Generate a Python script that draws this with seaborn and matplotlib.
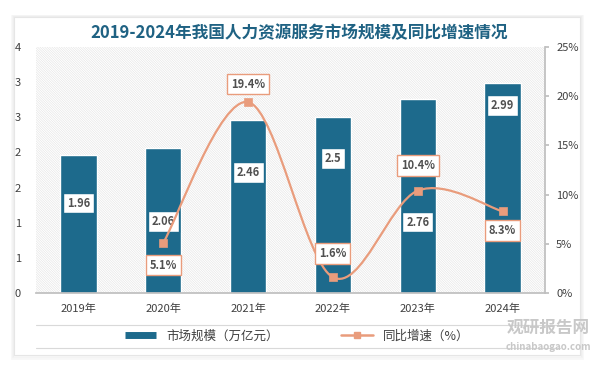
import numpy as np
import seaborn as sns
import matplotlib.pyplot as plt
from matplotlib.path import Path
from matplotlib.patches import PathPatch, Rectangle
from matplotlib.lines import Line2D

years = ["2019年", "2020年", "2021年", "2022年", "2023年", "2024年"]
market_size = [1.96, 2.06, 2.46, 2.5, 2.76, 2.99]
growth = [np.nan, 5.1, 19.4, 1.6, 10.4, 8.3]
left_tick_labels = ["0", "1", "1", "2", "2", "3", "3", "4"]
right_tick_labels = ["0%", "5%", "10%", "15%", "20%", "25%"]

# where the value boxes sit (left axis units / point offsets)
size_label_y = [1.28, 1.02, 1.71, 1.91, 1.01, 2.67]
growth_label_dy = [0, -16, 13, 17, 18, -14]

BAR = "#1d6a8c"
LINE = "#e99c7c"
TXT = "#404040"

sns.set_theme(style="white")
plt.rcParams["font.family"] = ["Noto Sans CJK SC", "DejaVu Sans"]
plt.rcParams["hatch.linewidth"] = 0.4

fig = plt.figure(figsize=(5.93, 3.69), dpi=100)
fig.patch.set_facecolor("white")

# card with soft shadow
for k, a in enumerate([0.02, 0.02, 0.03]):
    fig.patches.append(Rectangle((14 / 593 - k * 0.002, 1 - 355 / 369 - k * 0.004),
                                 566 / 593 + k * 0.004, 338 / 369 + k * 0.006,
                                 transform=fig.transFigure, facecolor="none",
                                 edgecolor="black", alpha=a, lw=2, zorder=-5))
fig.patches.append(Rectangle((14 / 593, 1 - 355 / 369), 566 / 593, 338 / 369,
                             transform=fig.transFigure, facecolor="white",
                             edgecolor="#e6e6e6", lw=0.8, zorder=-4))

ax = fig.add_axes([36 / 593, 1 - 293 / 369, 509 / 593, 246 / 369])
ax.set_facecolor("none")
ax.add_patch(Rectangle((0, 0), 1, 1, transform=ax.transAxes, facecolor="white",
                       edgecolor="#e2e2e2", hatch="\\" * 14, lw=0, zorder=0))

sns.barplot(x=years, y=market_size, color=BAR, width=0.43, saturation=1,
            edgecolor="white", linewidth=1, ax=ax, zorder=2)
ax.set_xlim(-0.5, 5.5)
ax.set_ylim(0, 3.5)
ax.set_yticks(np.arange(0, 3.51, 0.5))
ax.set_yticklabels(left_tick_labels)
ax.set_xlabel("")
ax.set_ylabel("")
for s in ["top", "left", "right"]:
    ax.spines[s].set_visible(False)
ax.spines["bottom"].set_color("#bfbfbf")
ax.tick_params(axis="y", length=0, pad=11, labelsize=8, labelcolor=TXT)
ax.tick_params(axis="x", length=0, pad=8, labelsize=8, labelcolor=TXT)

for i, v in enumerate(market_size):
    ax.annotate(f"{v:g}", (i, size_label_y[i]), ha="center", va="center",
                fontsize=8, fontweight="bold", color="#505050", zorder=5,
                bbox=dict(boxstyle="square,pad=0.35", fc="white", ec=BAR, lw=1))

ax2 = ax.twinx()
ax2.set_ylim(0, 25)
ax2.set_yticks(np.arange(0, 25.1, 5))
ax2.set_yticklabels(right_tick_labels)
for s in ["top", "left", "bottom"]:
    ax2.spines[s].set_visible(False)
ax2.spines["right"].set_color("#bfbfbf")
ax2.tick_params(axis="y", length=3, color="#bfbfbf", pad=5, labelsize=8,
                labelcolor=TXT, direction="out", right=True)

# smoothed line (Excel-style Catmull-Rom through the points)
pts = [(i, g) for i, g in enumerate(growth) if not np.isnan(g)]
P = np.array(pts, dtype=float)
verts = [tuple(P[0])]
codes = [Path.MOVETO]
for j in range(len(P) - 1):
    p0 = P[j - 1] if j > 0 else P[j]
    p1, p2 = P[j], P[j + 1]
    p3 = P[j + 2] if j + 2 < len(P) else P[j + 1]
    c1 = p1 + (p2 - p0) / 6
    c2 = p2 - (p3 - p1) / 6
    verts += [tuple(c1), tuple(c2), tuple(p2)]
    codes += [Path.CURVE4] * 3
ax2.add_patch(PathPatch(Path(verts, codes), facecolor="none", edgecolor=LINE,
                        lw=1.6, zorder=3))
sns.scatterplot(x=list(range(len(years))), y=growth, marker="s", s=36,
                color=LINE, edgecolor=LINE, ax=ax2, zorder=4)

for i, g in enumerate(growth):
    if np.isnan(g):
        continue
    ax2.annotate(f"{g}%", (i, g), xytext=(0, growth_label_dy[i]),
                 textcoords="offset points", ha="center", va="center",
                 fontsize=8, fontweight="bold", color="#505050", zorder=6,
                 bbox=dict(boxstyle="square,pad=0.35", fc="white", ec=LINE, lw=1))

fig.text(0.505, 1 - 33 / 369, "2019-2024年我国人力资源服务市场规模及同比增速情况",
         ha="center", va="center", fontsize=12, fontweight="bold", color="#1f6283")

handles = [Line2D([0], [0], color=BAR, lw=5, solid_capstyle="butt"),
           Line2D([0], [0], color=LINE, lw=1.8, marker="s", markersize=5)]
fig.legend(handles, ["市场规模（万亿元）", "同比增速（%）"], loc="center",
           bbox_to_anchor=(297 / 593, 1 - 336 / 369), ncol=2, frameon=False,
           fontsize=9, columnspacing=5, handlelength=2.5, labelcolor=TXT)
for yy in [325, 348]:
    fig.add_artist(Line2D([36 / 593, 560 / 593], [1 - yy / 369] * 2,
                          transform=fig.transFigure, color="#d9d9d9", lw=0.8))

fig.text(548 / 593, 1 - 328 / 369, "观研报告网", ha="center", va="center",
         fontsize=12, fontweight="bold", color="#c8c8c8")
fig.text(548 / 593, 1 - 347 / 369, "chinabaogao.com", ha="center", va="center",
         fontsize=7, fontweight="bold", color="#c8c8c8")

fig.savefig("out.png", dpi=100)
